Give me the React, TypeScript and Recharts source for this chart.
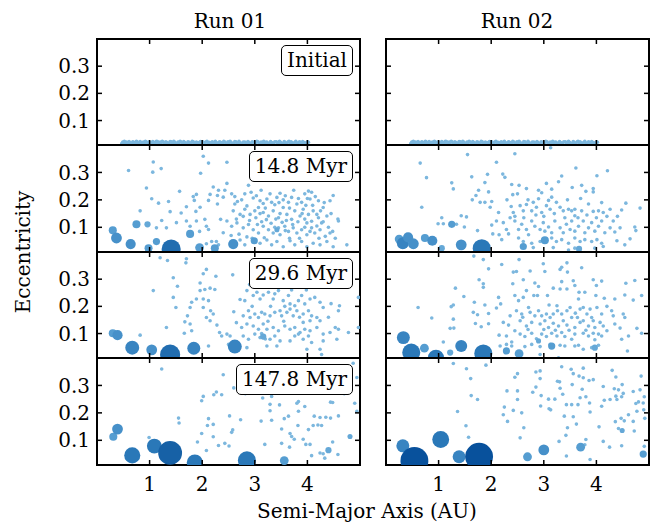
import React from "react";
import { ScatterChart, Scatter, XAxis, YAxis } from "recharts";

type Pt = [number, number];
type Body = [number, number, number];

const FONT = "'DejaVu Serif', serif";

const runs = ["Run 01", "Run 02"];
const stages = ["Initial", "14.8 Myr", "29.6 Myr", "147.8 Myr"];
const xTicks = [1, 2, 3, 4];
const yTicks = [0.1, 0.2, 0.3];
const xDomain = [0, 5];
const yDomain = [0.01, 0.4];

// starting disc, same for both runs
const initialBand: Pt[] = [
  [0.47, 0.015], [0.49, 0.021], [0.5, 0.019], [0.52, 0.024], [0.53, 0.013], [0.55, 0.018], [0.56, 0.021],
  [0.58, 0.014], [0.6, 0.016], [0.61, 0.023], [0.63, 0.018], [0.65, 0.012], [0.66, 0.014], [0.68, 0.022],
  [0.7, 0.02], [0.71, 0.013], [0.73, 0.017], [0.75, 0.024], [0.76, 0.022], [0.78, 0.016], [0.8, 0.015],
  [0.82, 0.023], [0.83, 0.019], [0.85, 0.012], [0.87, 0.013], [0.88, 0.021], [0.9, 0.018], [0.92, 0.024],
  [0.94, 0.021], [0.95, 0.014], [0.97, 0.016], [0.99, 0.022], [1.01, 0.019], [1.02, 0.012], [1.04, 0.014],
  [1.06, 0.023], [1.08, 0.02], [1.09, 0.015], [1.11, 0.017], [1.13, 0.024], [1.15, 0.023], [1.17, 0.013],
  [1.19, 0.015], [1.2, 0.021], [1.22, 0.018], [1.24, 0.024], [1.26, 0.021], [1.28, 0.013], [1.3, 0.014],
  [1.31, 0.022], [1.33, 0.019], [1.35, 0.012], [1.37, 0.016], [1.39, 0.023], [1.41, 0.022], [1.43, 0.014],
  [1.45, 0.017], [1.46, 0.024], [1.48, 0.02], [1.5, 0.013], [1.52, 0.014], [1.54, 0.021], [1.56, 0.018],
  [1.58, 0.024], [1.6, 0.021], [1.62, 0.012], [1.64, 0.016], [1.65, 0.023], [1.67, 0.019], [1.69, 0.013],
  [1.71, 0.015], [1.73, 0.022], [1.75, 0.02], [1.77, 0.014], [1.79, 0.017], [1.81, 0.024], [1.83, 0.022],
  [1.85, 0.016], [1.87, 0.014], [1.89, 0.021], [1.91, 0.018], [1.93, 0.012], [1.95, 0.02], [1.97, 0.023],
  [1.99, 0.016], [2.01, 0.022], [2.03, 0.019], [2.05, 0.013], [2.07, 0.021], [2.09, 0.024], [2.11, 0.015],
  [2.13, 0.02], [2.15, 0.018], [2.17, 0.013], [2.19, 0.022], [2.21, 0.019], [2.23, 0.016], [2.25, 0.024],
  [2.27, 0.019], [2.29, 0.012], [2.31, 0.014], [2.33, 0.022], [2.35, 0.02], [2.37, 0.015], [2.39, 0.017],
  [2.41, 0.024], [2.43, 0.021], [2.45, 0.013], [2.47, 0.015], [2.49, 0.022], [2.51, 0.018], [2.53, 0.024],
  [2.55, 0.02], [2.57, 0.013], [2.6, 0.016], [2.62, 0.023], [2.64, 0.022], [2.66, 0.014], [2.68, 0.017],
  [2.7, 0.024], [2.72, 0.019], [2.74, 0.012], [2.76, 0.014], [2.78, 0.021], [2.81, 0.021], [2.83, 0.015],
  [2.85, 0.017], [2.87, 0.023], [2.89, 0.019], [2.91, 0.012], [2.93, 0.015], [2.95, 0.022], [2.98, 0.02],
  [3.0, 0.014], [3.02, 0.018], [3.04, 0.024], [3.06, 0.022], [3.08, 0.013], [3.1, 0.016], [3.12, 0.021],
  [3.15, 0.019], [3.17, 0.024], [3.19, 0.014], [3.21, 0.02], [3.23, 0.021], [3.25, 0.013], [3.28, 0.017],
  [3.3, 0.023], [3.32, 0.019], [3.34, 0.012], [3.36, 0.015], [3.38, 0.022], [3.41, 0.022], [3.43, 0.014],
  [3.45, 0.018], [3.47, 0.024], [3.49, 0.02], [3.51, 0.013], [3.54, 0.016], [3.56, 0.023], [3.58, 0.019],
  [3.6, 0.014], [3.63, 0.021], [3.65, 0.024], [3.67, 0.015], [3.69, 0.022], [3.71, 0.018], [3.73, 0.012],
  [3.76, 0.02], [3.78, 0.024], [3.8, 0.017], [3.82, 0.013], [3.85, 0.022], [3.87, 0.019], [3.89, 0.016],
  [3.91, 0.023], [3.94, 0.019], [3.96, 0.013], [3.98, 0.017], [4.0, 0.022], [4.02, 0.02],
];

const run1Small15: Pt[] = [
  [0.6, 0.307], [1.07, 0.338], [1.06, 0.301], [1.22, 0.314], [2.02, 0.359], [2.12, 0.334], [2.47, 0.337],
  [1.97, 0.297], [0.94, 0.243], [1.57, 0.231], [1.04, 0.204], [1.17, 0.188], [1.36, 0.194], [0.82, 0.16],
  [1.23, 0.125], [1.39, 0.157], [1.6, 0.152], [1.7, 0.175], [1.83, 0.212], [1.89, 0.22], [1.88, 0.158],
  [1.85, 0.198], [1.96, 0.173], [2.12, 0.198], [2.15, 0.22], [2.21, 0.247], [2.31, 0.235], [2.29, 0.216],
  [2.4, 0.21], [2.43, 0.235], [2.47, 0.26], [2.29, 0.185], [2.05, 0.129], [2.08, 0.104], [1.89, 0.123],
  [1.77, 0.104], [1.7, 0.123], [1.51, 0.117], [1.32, 0.098], [1.13, 0.098], [2.12, 0.092], [2.4, 0.08],
  [2.47, 0.123], [2.35, 0.129], [2.27, 0.048], [2.18, 0.048], [2.31, 0.036], [2.08, 0.04], [1.95, 0.085],
  [2.56, 0.222], [2.62, 0.212], [2.67, 0.194], [2.81, 0.222], [2.88, 0.253], [2.97, 0.207], [3.1, 0.197],
  [3.16, 0.187], [3.23, 0.203], [3.32, 0.191], [3.42, 0.209], [3.48, 0.224], [3.54, 0.2], [3.64, 0.191],
  [3.7, 0.209], [3.8, 0.185], [3.89, 0.191], [3.95, 0.222], [4.02, 0.232], [4.08, 0.228], [4.05, 0.203],
  [4.21, 0.197], [4.3, 0.172], [4.43, 0.197], [4.49, 0.216], [2.59, 0.16], [2.72, 0.147], [2.81, 0.166],
  [2.91, 0.147], [3.0, 0.16], [3.07, 0.172], [3.16, 0.154], [3.26, 0.141], [3.35, 0.16], [3.45, 0.135],
  [3.54, 0.172], [3.61, 0.147], [3.7, 0.129], [3.76, 0.16], [3.86, 0.141], [3.92, 0.166], [4.02, 0.147],
  [4.11, 0.16], [4.18, 0.147], [4.21, 0.135], [4.08, 0.122], [3.99, 0.116], [4.27, 0.116], [4.37, 0.141],
  [2.56, 0.104], [2.66, 0.116], [2.78, 0.098], [2.88, 0.11], [2.97, 0.091], [3.07, 0.079], [3.16, 0.104],
  [3.26, 0.091], [3.35, 0.079], [3.48, 0.073], [3.57, 0.104], [3.64, 0.085], [3.73, 0.098], [3.8, 0.079],
  [3.89, 0.091], [3.99, 0.073], [4.08, 0.098], [4.14, 0.079], [4.24, 0.091], [4.34, 0.067], [4.43, 0.079],
  [4.53, 0.06], [2.72, 0.054], [2.81, 0.036], [3.1, 0.042], [3.23, 0.054], [3.32, 0.036], [3.42, 0.048],
  [3.54, 0.029], [3.67, 0.051], [3.76, 0.036], [3.89, 0.048], [3.99, 0.029], [4.11, 0.042], [4.24, 0.036],
  [4.37, 0.048], [4.49, 0.029], [4.75, 0.036], [4.59, 0.123], [2.62, 0.185], [2.75, 0.2], [2.85, 0.178],
  [2.93, 0.228], [3.03, 0.215], [3.12, 0.235], [3.2, 0.17], [3.29, 0.222], [3.38, 0.182], [3.46, 0.19],
  [3.58, 0.215], [3.66, 0.17], [3.74, 0.235], [3.83, 0.205], [3.9, 0.15], [3.97, 0.18], [4.1, 0.18],
  [4.15, 0.212], [4.25, 0.16], [4.32, 0.19], [2.65, 0.13], [2.78, 0.14], [2.9, 0.125], [3.02, 0.135],
  [3.13, 0.12], [3.22, 0.128], [3.31, 0.115], [3.4, 0.13], [3.52, 0.118], [3.6, 0.125], [3.72, 0.11],
  [3.82, 0.12], [3.95, 0.13], [4.05, 0.085], [4.18, 0.105], [4.3, 0.12], [2.7, 0.075], [2.85, 0.065],
  [2.95, 0.06], [3.05, 0.11], [3.18, 0.062], [3.38, 0.1], [3.45, 0.098], [3.66, 0.06], [3.85, 0.06],
  [3.95, 0.1], [4.22, 0.06], [4.4, 0.1], [4.48, 0.085], [4.58, 0.13], [4.45, 0.15], [2.55, 0.07],
  [2.6, 0.045], [3.58, 0.088], [3.48, 0.15], [3.1, 0.15], [4.0, 0.205],
];
const run1Big15: Body[] = [
  [0.3, 0.089, 5], [0.37, 0.061, 9], [0.64, 0.039, 8], [0.75, 0.111, 5], [0.96, 0.111, 3], [0.98, 0.024, 5],
  [1.13, 0.048, 4], [1.77, 0.076, 5], [1.95, 0.026, 6], [2.24, 0.024, 5], [2.59, 0.039, 8], [2.99, 0.051, 4],
  [3.42, 0.091, 2], [1.41, 0.021, 28],
];

const run1Small30: Pt[] = [
  [1.2, 0.379], [1.34, 0.369], [1.7, 0.375], [1.69, 0.36], [2.08, 0.336], [2.02, 0.32], [2.26, 0.311],
  [2.58, 0.316], [1.45, 0.305], [1.53, 0.274], [1.96, 0.286], [1.07, 0.258], [1.45, 0.233], [1.5, 0.196],
  [1.32, 0.122], [1.67, 0.143], [1.72, 0.165], [1.77, 0.196], [1.8, 0.215], [1.89, 0.227], [1.96, 0.258],
  [2.05, 0.262], [2.15, 0.267], [2.24, 0.262], [2.02, 0.227], [2.12, 0.221], [2.02, 0.196], [2.16, 0.184],
  [2.08, 0.159], [2.15, 0.147], [2.21, 0.172], [2.28, 0.131], [2.33, 0.104], [2.37, 0.091], [2.47, 0.098],
  [2.53, 0.091], [1.77, 0.135], [1.8, 0.11], [1.66, 0.101], [0.82, 0.094], [2.12, 0.054], [2.5, 0.06],
  [2.72, 0.225], [2.81, 0.221], [2.85, 0.258], [2.97, 0.24], [3.04, 0.252], [3.1, 0.227], [3.16, 0.242],
  [3.26, 0.252], [3.35, 0.227], [3.38, 0.246], [3.45, 0.258], [3.54, 0.221], [3.64, 0.24], [3.67, 0.209],
  [3.76, 0.202], [3.83, 0.221], [3.89, 0.24], [3.95, 0.209], [4.05, 0.227], [4.14, 0.233], [4.24, 0.215],
  [4.3, 0.196], [4.61, 0.202], [4.59, 0.184], [4.97, 0.233], [2.78, 0.165], [2.88, 0.184], [2.91, 0.159],
  [3.0, 0.172], [3.07, 0.159], [3.13, 0.178], [3.19, 0.172], [3.29, 0.165], [3.38, 0.178], [3.48, 0.184],
  [3.51, 0.165], [3.61, 0.178], [3.67, 0.19], [3.73, 0.165], [3.8, 0.184], [3.92, 0.172], [4.02, 0.184],
  [4.08, 0.165], [4.18, 0.159], [4.24, 0.147], [4.05, 0.147], [3.92, 0.141], [2.75, 0.122], [2.85, 0.135],
  [2.97, 0.128], [3.07, 0.116], [3.16, 0.135], [3.23, 0.116], [3.35, 0.122], [3.45, 0.11], [3.57, 0.128],
  [3.67, 0.116], [3.76, 0.122], [3.86, 0.104], [3.95, 0.116], [4.05, 0.11], [4.18, 0.122], [4.3, 0.098],
  [4.43, 0.104], [4.53, 0.122], [4.59, 0.116], [4.78, 0.104], [4.97, 0.122], [2.78, 0.091], [2.88, 0.079],
  [3.0, 0.098], [3.1, 0.085], [3.29, 0.079], [3.38, 0.091], [3.48, 0.073], [3.67, 0.073], [3.76, 0.091],
  [3.83, 0.098], [3.92, 0.079], [4.02, 0.091], [4.08, 0.067], [4.3, 0.073], [4.56, 0.079], [4.24, 0.042],
  [4.27, 0.023], [3.42, 0.054], [2.85, 0.048], [3.23, 0.054], [3.99, 0.042], [3.2, 0.08], [3.13, 0.1],
  [3.57, 0.2], [3.3, 0.2], [2.95, 0.2], [3.85, 0.16], [3.55, 0.145], [3.25, 0.145], [2.65, 0.14],
  [2.6, 0.18], [4.4, 0.16], [4.45, 0.21], [3.7, 0.26], [3.98, 0.26], [2.9, 0.28], [3.2, 0.29],
];
const run1Big30: Body[] = [
  [0.3, 0.101, 5], [0.39, 0.094, 8], [0.67, 0.048, 15], [1.04, 0.04, 9], [1.84, 0.046, 13], [2.62, 0.052, 15],
  [3.16, 0.089, 3], [1.39, 0.023, 31],
];

const run1Small148: Pt[] = [
  [1.23, 0.36], [2.4, 0.339], [2.6, 0.291], [2.27, 0.276], [2.22, 0.266], [2.37, 0.266], [2.02, 0.26],
  [1.99, 0.244], [3.15, 0.254], [3.32, 0.26], [3.29, 0.231], [3.47, 0.229], [3.8, 0.235], [3.83, 0.241],
  [3.95, 0.223], [4.44, 0.239], [4.48, 0.238], [4.9, 0.235], [4.94, 0.329], [4.87, 0.381], [1.55, 0.181],
  [1.56, 0.163], [2.12, 0.179], [2.52, 0.189], [2.73, 0.175], [2.1, 0.154], [2.21, 0.158], [3.12, 0.17],
  [3.29, 0.208], [3.32, 0.173], [3.56, 0.179], [3.64, 0.188], [3.82, 0.154], [3.83, 0.206], [4.13, 0.188],
  [4.24, 0.183], [4.27, 0.154], [4.35, 0.184], [4.44, 0.181], [4.59, 0.189], [3.51, 0.141], [3.67, 0.125],
  [3.7, 0.114], [4.02, 0.139], [4.11, 0.154], [4.2, 0.156], [1.99, 0.125], [2.21, 0.113], [2.56, 0.129],
  [2.58, 0.138], [0.99, 0.11], [1.91, 0.094], [2.31, 0.081], [2.43, 0.089], [2.08, 0.063], [2.51, 0.079],
  [3.19, 0.085], [3.51, 0.089], [3.66, 0.075], [3.75, 0.104], [3.92, 0.104], [3.97, 0.085], [4.05, 0.085],
  [4.24, 0.054], [4.3, 0.051], [4.33, 0.035], [4.48, 0.094], [4.58, 0.048], [4.08, 0.044], [4.94, 0.206],
  [2.95, 0.31], [3.65, 0.31], [4.15, 0.3], [4.6, 0.33], [2.82, 0.27], [4.7, 0.27],
];
const run1Big148: Body[] = [
  [0.31, 0.113, 5], [0.39, 0.141, 9], [0.67, 0.045, 20], [1.09, 0.079, 17], [1.86, 0.019, 20],
  [2.85, 0.027, 25], [3.56, 0.026, 6], [4.4, 0.064, 3], [4.81, 0.114, 2], [1.39, 0.054, 44],
];

const run2Small15: Pt[] = [
  [1.55, 0.365], [2.45, 0.368], [3.13, 0.39], [2.1, 0.337], [0.65, 0.334], [0.77, 0.281], [1.25, 0.262],
  [1.28, 0.24], [1.63, 0.284], [1.93, 0.293], [2.22, 0.294], [2.26, 0.282], [3.61, 0.316], [4.21, 0.306],
  [4.01, 0.288], [3.34, 0.287], [3.28, 0.266], [2.39, 0.256], [2.53, 0.253], [2.67, 0.241], [2.41, 0.219],
  [2.5, 0.222], [2.9, 0.235], [2.96, 0.226], [3.15, 0.239], [3.54, 0.245], [3.72, 0.253], [3.8, 0.231],
  [3.94, 0.241], [3.94, 0.229], [1.88, 0.263], [1.76, 0.235], [1.95, 0.229], [1.71, 0.216], [1.64, 0.2],
  [1.79, 0.191], [1.88, 0.191], [2.01, 0.194], [0.68, 0.173], [1.98, 0.173], [2.14, 0.154], [2.38, 0.176],
  [2.42, 0.154], [2.55, 0.179], [2.61, 0.16], [2.67, 0.183], [2.77, 0.16], [2.8, 0.191], [2.9, 0.204],
  [2.86, 0.173], [2.96, 0.154], [3.05, 0.179], [3.12, 0.166], [3.09, 0.198], [3.24, 0.191], [3.31, 0.173],
  [3.37, 0.16], [3.47, 0.166], [3.53, 0.16], [3.59, 0.166], [3.59, 0.142], [3.72, 0.16], [3.85, 0.185],
  [3.94, 0.158], [4.04, 0.16], [4.13, 0.154], [4.26, 0.166], [4.48, 0.163], [4.56, 0.188], [4.83, 0.17],
  [0.99, 0.113], [1.09, 0.113], [1.34, 0.111], [1.43, 0.142], [1.49, 0.101], [1.53, 0.138], [1.74, 0.088],
  [1.06, 0.135], [2.01, 0.108], [2.03, 0.076], [2.1, 0.123], [2.15, 0.073], [2.23, 0.117], [2.29, 0.092],
  [2.33, 0.076], [2.36, 0.135], [2.45, 0.123], [2.52, 0.092], [2.58, 0.111], [2.67, 0.092], [2.71, 0.073],
  [2.77, 0.123], [2.83, 0.104], [2.93, 0.092], [2.99, 0.117], [3.02, 0.086], [3.09, 0.101], [3.15, 0.08],
  [3.21, 0.123], [3.31, 0.098], [3.37, 0.08], [3.43, 0.111], [3.5, 0.092], [3.53, 0.123], [3.59, 0.086],
  [3.66, 0.104], [3.75, 0.123], [3.78, 0.08], [3.85, 0.098], [3.91, 0.117], [3.97, 0.086], [4.04, 0.104],
  [4.1, 0.123], [4.16, 0.08], [4.26, 0.098], [4.32, 0.123], [4.35, 0.083], [4.45, 0.098], [4.73, 0.101],
  [4.75, 0.088], [4.64, 0.058], [4.54, 0.036], [4.39, 0.051], [2.2, 0.055], [2.52, 0.061], [2.61, 0.048],
  [2.77, 0.042], [2.93, 0.048], [3.15, 0.061], [3.24, 0.048], [3.34, 0.055], [3.47, 0.042], [3.59, 0.061],
  [3.69, 0.048], [3.78, 0.055], [3.91, 0.048], [4.01, 0.055], [4.1, 0.042], [3.18, 0.026], [3.47, 0.017],
  [3.59, 0.024], [3.97, 0.024], [4.13, 0.03], [2.8, 0.026], [2.45, 0.14], [2.62, 0.135], [2.85, 0.145],
  [3.0, 0.14], [3.2, 0.15], [3.4, 0.135], [3.65, 0.135], [3.82, 0.145], [4.0, 0.135], [4.2, 0.14],
  [2.7, 0.2], [3.15, 0.21], [3.45, 0.2], [3.7, 0.205], [4.1, 0.19], [4.4, 0.14], [2.3, 0.2], [3.05, 0.26],
];
const run2Big15: Body[] = [
  [0.25, 0.057, 6], [0.32, 0.042, 11], [0.42, 0.063, 8], [0.52, 0.04, 9], [0.74, 0.061, 5], [0.88, 0.051, 8],
  [1.06, 0.024, 3], [1.25, 0.111, 4], [1.43, 0.036, 9], [2.61, 0.03, 4], [3.02, 0.053, 5], [3.67, 0.021, 3],
  [1.82, 0.024, 25],
];

const run2Small30: Pt[] = [
  [1.67, 0.385], [1.85, 0.372], [1.95, 0.338], [2.2, 0.354], [2.53, 0.372], [2.48, 0.328], [2.42, 0.326],
  [2.74, 0.33], [2.99, 0.357], [3.02, 0.328], [3.31, 0.336], [3.34, 0.344], [3.44, 0.36], [3.72, 0.342],
  [3.45, 0.326], [1.32, 0.267], [1.77, 0.298], [1.85, 0.283], [1.85, 0.27], [1.48, 0.236], [0.61, 0.196],
  [1.24, 0.199], [1.28, 0.205], [0.87, 0.157], [1.28, 0.153], [1.22, 0.119], [1.29, 0.12], [1.09, 0.069],
  [1.68, 0.215], [1.88, 0.205], [1.66, 0.178], [1.74, 0.169], [1.95, 0.174], [1.7, 0.137], [1.81, 0.125],
  [1.95, 0.136], [2.1, 0.194], [2.18, 0.209], [2.14, 0.233], [2.15, 0.094], [2.29, 0.091], [2.17, 0.054],
  [2.29, 0.06], [2.39, 0.069], [2.41, 0.283], [2.61, 0.298], [2.83, 0.286], [2.9, 0.273], [2.88, 0.24],
  [2.81, 0.24], [2.45, 0.24], [2.52, 0.221], [2.61, 0.233], [2.67, 0.258], [3.07, 0.24], [3.18, 0.267],
  [3.31, 0.264], [3.34, 0.291], [3.44, 0.264], [3.56, 0.294], [3.59, 0.277], [3.67, 0.252], [3.78, 0.252],
  [3.66, 0.227], [3.94, 0.298], [4.0, 0.277], [4.1, 0.293], [4.15, 0.23], [3.99, 0.24], [4.35, 0.227],
  [4.56, 0.285], [4.54, 0.242], [4.7, 0.223], [4.73, 0.295], [4.86, 0.24], [2.36, 0.165], [2.48, 0.184],
  [2.58, 0.172], [2.71, 0.196], [2.74, 0.178], [2.83, 0.165], [2.9, 0.184], [2.96, 0.165], [3.05, 0.172],
  [3.12, 0.159], [3.18, 0.172], [3.26, 0.184], [3.25, 0.202], [3.34, 0.172], [3.44, 0.184], [3.53, 0.159],
  [3.64, 0.159], [3.69, 0.19], [3.75, 0.196], [3.82, 0.172], [3.88, 0.19], [3.91, 0.159], [4.01, 0.196],
  [4.1, 0.172], [4.29, 0.184], [4.32, 0.165], [4.51, 0.172], [4.54, 0.159], [3.5, 0.196], [2.23, 0.141],
  [2.33, 0.131], [2.55, 0.147], [2.67, 0.128], [2.77, 0.141], [2.93, 0.135], [3.02, 0.147], [3.09, 0.122],
  [3.18, 0.138], [3.28, 0.128], [3.37, 0.147], [3.44, 0.131], [3.59, 0.122], [3.69, 0.141], [3.75, 0.147],
  [3.85, 0.128], [3.94, 0.147], [3.97, 0.122], [4.07, 0.141], [4.13, 0.128], [4.35, 0.135], [2.55, 0.098],
  [2.64, 0.089], [2.77, 0.101], [2.86, 0.081], [2.96, 0.098], [3.05, 0.089], [3.15, 0.101], [3.25, 0.091],
  [3.34, 0.104], [3.4, 0.089], [3.53, 0.079], [3.59, 0.098], [3.75, 0.101], [3.85, 0.091], [3.94, 0.101],
  [3.97, 0.077], [4.04, 0.098], [4.1, 0.091], [4.48, 0.079], [4.61, 0.091], [4.77, 0.119], [4.86, 0.101],
  [2.39, 0.054], [2.64, 0.052], [2.77, 0.06], [2.93, 0.052], [3.12, 0.06], [3.31, 0.057], [3.4, 0.054],
  [3.59, 0.054], [3.66, 0.057], [3.75, 0.042], [3.91, 0.048], [4.04, 0.057], [4.59, 0.036], [2.93, 0.023],
  [3.28, 0.011], [2.45, 0.11], [2.7, 0.115], [3.0, 0.115], [3.22, 0.112], [3.48, 0.112], [3.8, 0.112],
  [4.2, 0.11], [4.45, 0.12], [2.6, 0.16], [3.6, 0.175], [4.2, 0.2], [3.1, 0.205],
];
const run2Big30: Body[] = [
  [0.33, 0.085, 13], [0.73, 0.046, 6], [1.22, 0.03, 3], [1.43, 0.054, 11], [2.29, 0.036, 4], [2.53, 0.026, 6],
  [3.15, 0.054, 4], [3.97, 0.048, 3], [2.9, 0.073, 2], [0.48, 0.03, 25], [0.95, 0.011, 20], [1.85, 0.027, 25],
];

const run2Small148: Pt[] = [
  [1.28, 0.38], [1.53, 0.361], [1.9, 0.374], [1.61, 0.325], [1.62, 0.263], [1.74, 0.249], [1.36, 0.205],
  [1.52, 0.153], [1.57, 0.111], [2.25, 0.221], [2.23, 0.193], [2.31, 0.169], [2.42, 0.209], [2.62, 0.146],
  [2.55, 0.109], [2.45, 0.33], [2.5, 0.343], [2.5, 0.28], [2.5, 0.249], [2.79, 0.275], [2.85, 0.294],
  [2.85, 0.349], [2.93, 0.353], [2.93, 0.325], [2.95, 0.263], [2.94, 0.225], [3.09, 0.25], [3.1, 0.215],
  [3.13, 0.211], [3.21, 0.25], [3.26, 0.315], [3.3, 0.313], [3.31, 0.29], [3.36, 0.268], [3.34, 0.368],
  [3.52, 0.359], [3.56, 0.343], [3.54, 0.303], [3.43, 0.23], [3.53, 0.23], [3.39, 0.188], [3.56, 0.186],
  [3.62, 0.159], [3.45, 0.146], [3.42, 0.118], [3.29, 0.096], [3.75, 0.363], [3.67, 0.334], [3.75, 0.328],
  [3.86, 0.318], [3.94, 0.321], [3.73, 0.286], [3.69, 0.255], [3.8, 0.259], [3.87, 0.236], [3.65, 0.23],
  [3.88, 0.203], [3.8, 0.103], [3.88, 0.03], [4.1, 0.224], [4.13, 0.296], [4.15, 0.246], [4.05, 0.149],
  [4.13, 0.096], [4.25, 0.075], [4.3, 0.355], [4.37, 0.331], [4.34, 0.288], [4.42, 0.284], [4.49, 0.303],
  [4.51, 0.271], [4.37, 0.261], [4.39, 0.249], [4.48, 0.259], [4.26, 0.249], [4.47, 0.18], [4.53, 0.171],
  [4.36, 0.168], [4.42, 0.143], [4.61, 0.193], [4.7, 0.169], [4.72, 0.134], [4.7, 0.278], [4.75, 0.234],
  [4.8, 0.24], [4.83, 0.284], [4.85, 0.334], [4.91, 0.259], [4.9, 0.211], [4.92, 0.18], [4.89, 0.236],
  [4.91, 0.078], [4.77, 0.206], [4.48, 0.08], [3.43, 0.043], [3.78, 0.084], [2.3, 0.28], [2.58, 0.2],
];
const run2Big148: Body[] = [
  [0.32, 0.08, 13], [1.04, 0.103, 22], [1.39, 0.04, 13], [2.69, 0.04, 6], [3.0, 0.065, 9], [3.7, 0.075, 6],
  [4.49, 0.136, 2], [4.89, 0.05, 4], [0.54, 0.025, 60], [1.77, 0.04, 60],
];

// rows = stages, columns = runs
const panels: { small: Pt[]; big: Body[] }[][] = [
  [{ small: initialBand, big: [] }, { small: initialBand, big: [] }],
  [{ small: run1Small15, big: run1Big15 }, { small: run2Small15, big: run2Big15 }],
  [{ small: run1Small30, big: run1Big30 }, { small: run2Small30, big: run2Big30 }],
  [{ small: run1Small148, big: run1Big148 }, { small: run2Small148, big: run2Big148 }],
];

const colLeft = [97, 386];
const plotW = 263;
const rowTop = [39, 145, 252, 358];
const rowH = [106, 107, 106, 107];
const PAD = 8; // room around each plot for the frame
const LEFT_AX = 50; // room for y tick labels
const BOTTOM_AX = 34; // room for x tick labels
const TICK = 5; // inward tick length, px
const TW = 1.5; // tick thickness, px

// mass -> colour, a slice of the Blues map
function massColor(m: number) {
  if (m <= 1) return "#7cb7de";
  if (m <= 3) return "#65a8d7";
  if (m <= 6) return "#559dd1";
  if (m <= 10) return "#4690c9";
  if (m <= 16) return "#3884c1";
  if (m <= 25) return "#2a78b8";
  if (m <= 35) return "#216db0";
  if (m <= 50) return "#1761a6";
  return "#08519c";
}

const Dot = (props: any) => {
  const m = props.payload?.m ?? 1;
  return <circle cx={props.cx} cy={props.cy} r={1.8 * Math.sqrt(m)} fill={massColor(m)} />;
};

// inward tick marks, placed on the frame through the chart's own scales
const TickUp = (p: any) => <rect x={p.cx - TW / 2} y={p.cy - TICK} width={TW} height={TICK} fill="#000" />;
const TickDown = (p: any) => <rect x={p.cx - TW / 2} y={p.cy} width={TW} height={TICK} fill="#000" />;
const TickRight = (p: any) => <rect x={p.cx} y={p.cy - TW / 2} width={TICK} height={TW} fill="#000" />;
const TickLeft = (p: any) => <rect x={p.cx - TICK} y={p.cy - TW / 2} width={TICK} height={TW} fill="#000" />;

const bottomTicks = xTicks.map((a) => ({ a, e: yDomain[0] }));
const topTicks = xTicks.map((a) => ({ a, e: yDomain[1] }));
const leftTicks = yTicks.map((e) => ({ a: xDomain[0], e }));
const rightTicks = yTicks.map((e) => ({ a: xDomain[1], e }));

const frame = { stroke: "#000", strokeWidth: 2, strokeLinecap: "square" as const };
const tickFont = { fontFamily: FONT, fontSize: 20, fill: "#000" };

function Panel({ row, col }: { row: number; col: number }) {
  const p = panels[row][col];
  const small = p.small.map(([a, e]) => ({ a, e, m: 1 }));
  const big = p.big.map(([a, e, m]) => ({ a, e, m }));
  const bottom = row === 3;
  const left = col === 0;
  const lw = left ? LEFT_AX : PAD;
  const bh = bottom ? BOTTOM_AX : PAD;
  return (
    <div style={{ position: "absolute", left: colLeft[col] - lw, top: rowTop[row] - PAD }}>
      <ScatterChart width={plotW + lw + PAD} height={rowH[row] + PAD + bh} margin={{ top: 0, right: 0, bottom: 0, left: 0 }}>
        <XAxis xAxisId="b" orientation="bottom" type="number" dataKey="a" domain={xDomain} ticks={xTicks}
          allowDataOverflow height={bh} interval={0} tickSize={0} tickMargin={12}
          tick={bottom ? tickFont : false} axisLine={frame} tickLine={false} />
        <XAxis xAxisId="t" orientation="top" type="number" dataKey="a" domain={xDomain}
          allowDataOverflow height={PAD} tick={false} axisLine={frame} tickLine={false} />
        <YAxis yAxisId="l" orientation="left" type="number" dataKey="e" domain={yDomain} ticks={yTicks}
          allowDataOverflow width={lw} interval={0} tickSize={0} tickMargin={7}
          tick={left ? tickFont : false} axisLine={frame} tickLine={false} />
        <YAxis yAxisId="r" orientation="right" type="number" dataKey="e" domain={yDomain}
          allowDataOverflow width={PAD} tick={false} axisLine={frame} tickLine={false} />
        <Scatter xAxisId="b" yAxisId="l" data={small} shape={Dot} isAnimationActive={false} />
        <Scatter xAxisId="b" yAxisId="l" data={big} shape={Dot} isAnimationActive={false} />
        <Scatter xAxisId="b" yAxisId="l" data={bottomTicks} shape={TickUp} isAnimationActive={false} />
        <Scatter xAxisId="b" yAxisId="l" data={topTicks} shape={TickDown} isAnimationActive={false} />
        <Scatter xAxisId="b" yAxisId="l" data={leftTicks} shape={TickRight} isAnimationActive={false} />
        <Scatter xAxisId="b" yAxisId="l" data={rightTicks} shape={TickLeft} isAnimationActive={false} />
      </ScatterChart>
      {col === 0 && (
        <div style={{
          position: "absolute", right: PAD + 7, top: PAD + 6, border: "1px solid #000", borderRadius: 5,
          background: "#fff", fontFamily: FONT, fontSize: 20, lineHeight: "25px", padding: "2px 5px",
          whiteSpace: "nowrap",
        }}>
          {stages[row]}
        </div>
      )}
    </div>
  );
}

export default function App() {
  const text: React.CSSProperties = {
    position: "absolute", fontFamily: FONT, fontSize: 20, color: "#000",
    transform: "translate(-50%, -50%)", whiteSpace: "nowrap",
  };
  return (
    <div style={{ position: "absolute", left: 0, top: 0, width: 652, height: 522, background: "#fff", overflow: "hidden" }}>
      <style>{`.recharts-surface{overflow:visible}`}</style>
      {panels.map((r, ri) => r.map((_, ci) => <Panel key={`${ri}-${ci}`} row={ri} col={ci} />))}
      <div style={{ ...text, left: 230, top: 21 }}>{runs[0]}</div>
      <div style={{ ...text, left: 517, top: 21 }}>{runs[1]}</div>
      <div style={{ ...text, left: 367, top: 511 }}>Semi-Major Axis (AU)</div>
      <div style={{ ...text, left: 23, top: 252, transform: "translate(-50%, -50%) rotate(-90deg)" }}>Eccentricity</div>
    </div>
  );
}
